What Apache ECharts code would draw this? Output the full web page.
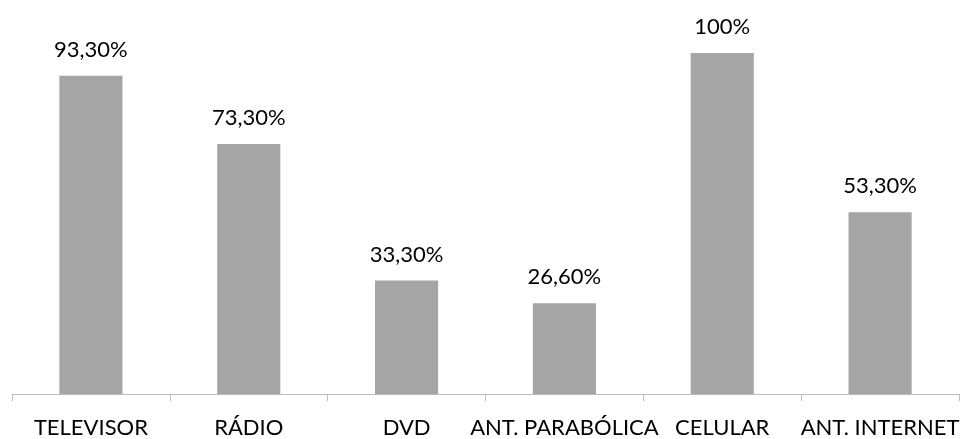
<!DOCTYPE html>
<html>
<head>
<meta charset="utf-8">
<script src="https://cdn.jsdelivr.net/npm/echarts@6/dist/echarts.min.js"></script>
<style>html,body{margin:0;padding:0;background:#fff;}#c{width:966px;height:439px;}</style>
</head>
<body>
<div id="c"></div>
<script>
const categories = ['TELEVISOR', 'RÁDIO', 'DVD', 'ANT. PARABÓLICA', 'CELULAR', 'ANT. INTERNET'];
const values = [93.3, 73.3, 33.3, 26.6, 100, 53.3];

function fmt(v) {
  if (Number.isInteger(v)) return v + '%';
  return v.toFixed(2).replace('.', ',') + '%';
}

const chart = echarts.init(document.getElementById('c'), null, {renderer: 'canvas'});
chart.setOption({
  animation: false,
  textStyle: {fontFamily: 'Lato'},
  grid: {left: 12, right: 7, top: 53, bottom: 43},
  xAxis: {
    type: 'category',
    data: categories,
    boundaryGap: true,
    axisLine: {lineStyle: {color: '#bcbcbc', width: 1}},
    axisTick: {show: true, length: 7, lineStyle: {color: '#bcbcbc'}},
    axisLabel: {color: '#000', fontSize: 22, fontFamily: 'Lato', margin: 23, interval: 0}
  },
  yAxis: {
    type: 'value', min: 0, max: 100, show: false,
    splitLine: {show: false}
  },
  series: [{
    type: 'bar',
    data: values,
    barWidth: '40%',
    itemStyle: {color: '#a5a5a5'},
    label: {
      show: true, position: 'top', distance: 15,
      color: '#000', fontSize: 22, fontFamily: 'Lato',
      formatter: p => fmt(p.value)
    }
  }]
});
</script>
</body>
</html>
